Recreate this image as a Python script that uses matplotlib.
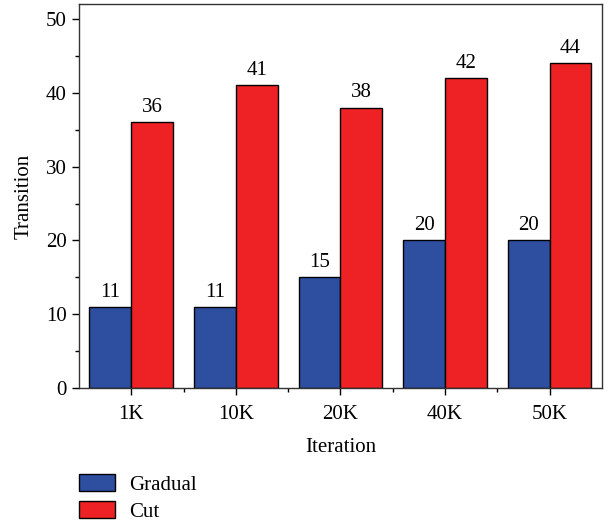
import matplotlib
matplotlib.use("Agg")
import matplotlib.pyplot as plt
from matplotlib.patches import Patch
from matplotlib.ticker import MultipleLocator, FixedLocator
import numpy as np

categories = ["1K", "10K", "20K", "40K", "50K"]
gradual = [11, 11, 15, 20, 20]
cut = [36, 41, 38, 42, 44]
series_names = ["Gradual", "Cut"]

blue = "#2E4FA0"
red = "#EE2224"

plt.rcParams["font.family"] = ["Liberation Serif", "DejaVu Serif"]
plt.rcParams["font.size"] = 15

fig = plt.figure(figsize=(6.08, 5.23), dpi=100)
ax = fig.add_axes([0.130, 0.258, 0.860, 0.734])

x = np.arange(len(categories))
w = 0.4
b1 = ax.bar(x - w / 2, gradual, w, color=blue, edgecolor="black", linewidth=1.0)
b2 = ax.bar(x + w / 2, cut, w, color=red, edgecolor="black", linewidth=1.0)

for bars, vals in ((b1, gradual), (b2, cut)):
    for r, v in zip(bars, vals):
        ax.text(r.get_x() + r.get_width() / 2, v + 0.7, str(v),
                ha="center", va="bottom", fontsize=15)

ax.set_xlim(-0.5, 4.5)
ax.set_ylim(0, 52)
ax.set_xticks(x)
ax.set_xticklabels(categories)
ax.xaxis.set_minor_locator(FixedLocator(x[:-1] + 0.5))
ax.yaxis.set_major_locator(MultipleLocator(10))
ax.yaxis.set_minor_locator(MultipleLocator(5))
ax.tick_params(axis="both", which="major", direction="out", length=5, width=1.0, pad=4)
ax.tick_params(axis="both", which="minor", direction="out", length=3, width=1.0)
ax.tick_params(axis="x", which="major", pad=7)

for s in ax.spines.values():
    s.set_linewidth(1.0)
    s.set_color("#333333")

ax.set_xlabel("Iteration", labelpad=10)
ax.set_ylabel("Transition", labelpad=9)

handles = [Patch(facecolor=blue, edgecolor="black", linewidth=1.0),
           Patch(facecolor=red, edgecolor="black", linewidth=1.0)]
fig.legend(handles, series_names, loc="lower left", bbox_to_anchor=(0.1135, -0.018),
           frameon=False, borderpad=0, handlelength=1.73, handleheight=0.87,
           handletextpad=0.65, labelspacing=0.3)

fig.savefig("out.png", dpi=100)
